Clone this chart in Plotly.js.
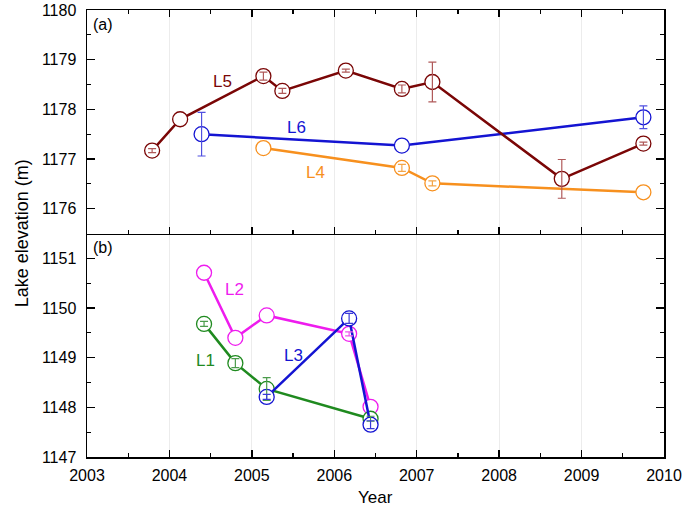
<!DOCTYPE html>
<html><head><meta charset="utf-8">
<script src="https://cdn.plot.ly/plotly-3.0.1.min.js"></script>
<style>html,body{margin:0;padding:0;background:#fff}</style>
</head><body><div id="chart" style="width:685px;height:506px"></div>
<script>
// Panel (a)
const L5_year = [2003.79, 2004.13, 2005.14, 2005.37, 2006.14, 2006.82, 2007.19, 2008.76, 2009.75];
const L5_elev = [1177.17, 1177.80, 1178.67, 1178.37, 1178.78, 1178.41, 1178.55, 1176.60, 1177.31];
const L5_err  = [0.04, 0, 0.08, 0.05, 0.03, 0.08, 0.40, 0.39, 0.03];
const L6_year = [2004.39, 2006.82, 2009.75];
const L6_elev = [1177.50, 1177.27, 1177.84];
const L6_err  = [0.44, 0, 0.23];
const L4_year = [2005.14, 2006.82, 2007.19, 2009.75];
const L4_elev = [1177.22, 1176.82, 1176.51, 1176.33];
const L4_err  = [0, 0.07, 0.05, 0];
// Panel (b)
const L2_year = [2004.42, 2004.80, 2005.18, 2006.18, 2006.44];
const L2_elev = [1150.71, 1149.40, 1149.85, 1149.48, 1148.01];
const L2_err  = [0, 0, 0, 0.04, 0];
const L1_year = [2004.42, 2004.80, 2005.18, 2006.44];
const L1_elev = [1149.68, 1148.89, 1148.37, 1147.77];
const L1_err  = [0.05, 0.09, 0.23, 0.05];
const L3_year = [2005.18, 2006.18, 2006.44];
const L3_elev = [1148.21, 1149.79, 1147.65];
const L3_err  = [0.05, 0.10, 0.08];

const xTicks = [2003, 2004, 2005, 2006, 2007, 2008, 2009, 2010];
const yTicksA = [1176, 1177, 1178, 1179, 1180];
const yTicksB = [1147, 1148, 1149, 1150, 1151];

const FONT = '"Liberation Sans", Arial, sans-serif';

function series(x, y, color, xa, ya) {
  return {x: x, y: y, xaxis: xa, yaxis: ya, type: 'scatter', mode: 'lines+markers',
    line: {color: color, width: 2.5},
    marker: {symbol: 'circle', size: 15, color: 'white', line: {color: color, width: 1.3}},
    hoverinfo: 'x+y', showlegend: false};
}
function errs(x, y, e, color, xa, ya) {
  const keep = e.map((v, i) => v > 0 ? i : -1).filter(i => i >= 0);
  return {x: keep.map(i => x[i]), y: keep.map(i => y[i]), xaxis: xa, yaxis: ya, type: 'scatter', mode: 'markers',
    marker: {size: 1, color: 'rgba(0,0,0,0)'},
    error_y: {type: 'data', array: keep.map(i => e[i]), visible: true, color: color, thickness: 1.2, width: 4},
    hoverinfo: 'skip', showlegend: false};
}

const data = [
  series(L4_year, L4_elev, '#f7901e', 'x2', 'y'),
  series(L6_year, L6_elev, '#1414d2', 'x2', 'y'),
  series(L5_year, L5_elev, '#7a0606', 'x2', 'y'),
  series(L2_year, L2_elev, '#ee1cee', 'x', 'y2'),
  series(L1_year, L1_elev, '#1f8a1f', 'x', 'y2'),
  series(L3_year, L3_elev, '#1414d2', 'x', 'y2'),
  errs(L4_year, L4_elev, L4_err, '#f4a548', 'x2', 'y'),
  errs(L6_year, L6_elev, L6_err, '#5050e0', 'x2', 'y'),
  errs(L5_year, L5_elev, L5_err, '#b05a5a', 'x2', 'y'),
  errs(L2_year, L2_elev, L2_err, '#ee55ee', 'x', 'y2'),
  errs(L1_year, L1_elev, L1_err, '#4c9c4c', 'x', 'y2'),
  errs(L3_year, L3_elev, L3_err, '#3a3ad8', 'x', 'y2')
];

const xBase = {range: [2003, 2010], tickvals: xTicks, ticks: 'inside', ticklen: 7, tickwidth: 1.3,
  tickcolor: '#000', showline: true, linecolor: '#000', linewidth: 1.5,
  showgrid: true, gridcolor: '#ececec', gridwidth: 1, zeroline: false,
  minor: {dtick: 0.5, tick0: 2003, ticks: 'inside', ticklen: 4, tickcolor: '#000', tickwidth: 1.3, showgrid: false},
  tickfont: {family: FONT, size: 16, color: '#000'}, fixedrange: true};
const yBase = {ticks: 'inside', ticklen: 8, tickwidth: 1.3, tickcolor: '#000',
  showline: true, linecolor: '#000', linewidth: 1.5, mirror: 'ticks',
  showgrid: false, zeroline: false,
  minor: {dtick: 0.5, ticks: 'inside', ticklen: 4, tickcolor: '#000', tickwidth: 1.3, showgrid: false},
  tickfont: {family: FONT, size: 16, color: '#000'}, ticklabelstandoff: 6, fixedrange: true};

const layout = {
  width: 685, height: 506,
  margin: {l: 87, r: 21, t: 10, b: 49, pad: 0},
  paper_bgcolor: '#fff', plot_bgcolor: '#fff',
  font: {family: FONT, size: 16, color: '#000'},
  xaxis: Object.assign({}, xBase, {anchor: 'y2', domain: [0, 1], ticklabelstandoff: 3}),
  xaxis2: Object.assign({}, xBase, {anchor: 'y', domain: [0, 1], matches: 'x', showticklabels: false, mirror: 'ticks'}),
  yaxis: Object.assign({}, yBase, {domain: [0.5, 1], range: [1175.5, 1180], tickvals: yTicksA, anchor: 'x2',
    minor: Object.assign({}, yBase.minor, {tick0: 1175.5})}),
  yaxis2: Object.assign({}, yBase, {domain: [0, 0.5], range: [1147, 1151.5], tickvals: yTicksB, anchor: 'x',
    minor: Object.assign({}, yBase.minor, {tick0: 1147})}),
  annotations: [
    {text: '(a)', xref: 'x2', yref: 'y', x: 2003.2, y: 1179.7, showarrow: false, font: {size: 16}},
    {text: '(b)', xref: 'x', yref: 'y2', x: 2003.2, y: 1151.21, showarrow: false, font: {size: 16}},
    {text: 'L5', xref: 'x2', yref: 'y', x: 2004.64, y: 1178.57, showarrow: false, font: {size: 17, color: '#7a0606'}},
    {text: 'L6', xref: 'x2', yref: 'y', x: 2005.54, y: 1177.63, showarrow: false, font: {size: 17, color: '#1414d2'}},
    {text: 'L4', xref: 'x2', yref: 'y', x: 2005.77, y: 1176.73, showarrow: false, font: {size: 17, color: '#f7901e'}},
    {text: 'L2', xref: 'x', yref: 'y2', x: 2004.79, y: 1150.37, showarrow: false, font: {size: 17, color: '#ee1cee'}},
    {text: 'L1', xref: 'x', yref: 'y2', x: 2004.44, y: 1148.94, showarrow: false, font: {size: 17, color: '#1f8a1f'}},
    {text: 'L3', xref: 'x', yref: 'y2', x: 2005.51, y: 1149.04, showarrow: false, font: {size: 17, color: '#1414d2'}},
    {text: 'Lake elevation (m)', xref: 'paper', yref: 'paper', x: -0.113, y: 0.5, xanchor: 'center', yanchor: 'middle',
      textangle: -90, showarrow: false, font: {size: 18}},
    {text: 'Year', xref: 'paper', yref: 'paper', x: 0.5, y: -0.09, xanchor: 'center', yanchor: 'middle',
      showarrow: false, font: {size: 17}}
  ]
};

Plotly.newPlot('chart', data, layout, {staticPlot: true, displayModeBar: false});
</script></body></html>
